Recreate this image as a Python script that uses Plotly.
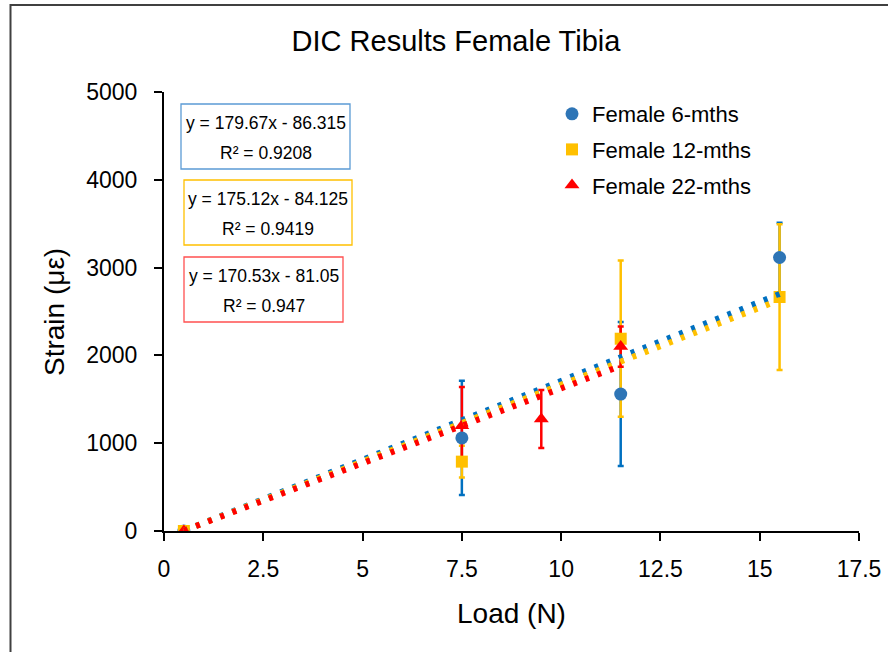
import plotly.graph_objects as go

# ---------------- data ----------------
series_names = ["Female 6-mths", "Female 12-mths", "Female 22-mths"]

load_6 = [0.5, 7.5, 11.5, 15.5]
strain_6 = [0, 1060, 1560, 3115]
err_6 = [0, 650, 820, 395]

load_12 = [0.5, 7.5, 11.5, 15.5]
strain_12 = [0, 790, 2190, 2665]
err_12 = [0, 180, 890, 830]

load_22 = [0.5, 7.5, 9.5, 11.5]
strain_22 = [0, 1200, 1275, 2100]
err_22 = [0, 440, 330, 230]

# linear trendline coefficients (as printed on the chart)
trend_slope = [179.67, 175.12, 170.53]
trend_intercept = [-86.315, -84.125, -81.05]
trend_r2 = ["0.9208", "0.9419", "0.947"]
eq_text = ["y = 179.67x - 86.315", "y = 175.12x - 84.125", "y = 170.53x - 81.05"]

x_tick_vals = [0, 2.5, 5, 7.5, 10, 12.5, 15, 17.5]
x_tick_text = ["0", "2.5", "5", "7.5", "10", "12.5", "15", "17.5"]
y_tick_vals = [0, 1000, 2000, 3000, 4000, 5000]
y_tick_text = ["0", "1000", "2000", "3000", "4000", "5000"]

# ---------------- styles ----------------
FONT = "Arial, Liberation Sans, sans-serif"
marker_colors = ["#2E75B6", "#FFC000", "#FF0000"]
err_colors = ["#0070C0", "#FFC000", "#FF0000"]
trend_colors = ["#0070C0", "#FFC000", "#FF0000"]
box_colors = ["#5B9BD5", "#FFC000", "#FF5050"]
symbols = ["circle", "square", "triangle-up"]
sizes = [13, 12, 13]

W, H = 888, 652
L, R, T, B = 164, 29, 92, 121
PW, PH = W - L - R, H - T - B


def px2x(px):
    return (px - L) / PW


def px2y(py):
    return (H - B - py) / PH


loads = [load_6, load_12, load_22]
strains = [strain_6, strain_12, strain_22]
errs = [err_6, err_12, err_22]

fig = go.Figure()

# error bars (drawn beneath all markers)
for i in range(3):
    fig.add_trace(go.Scatter(
        x=loads[i], y=strains[i], mode="markers",
        marker=dict(color="rgba(0,0,0,0)", size=1),
        error_y=dict(type="data", array=errs[i], visible=True,
                     color=err_colors[i], thickness=2.5, width=3),
        showlegend=False, hoverinfo="skip", legendgroup=f"g{i}"))

# markers
for i in range(3):
    fig.add_trace(go.Scatter(
        x=loads[i], y=strains[i], mode="markers", name=series_names[i],
        marker=dict(color=marker_colors[i], symbol=symbols[i], size=sizes[i],
                    line=dict(width=0)),
        legendgroup=f"g{i}"))

# trendlines
for i in range(3):
    xs = [min(loads[i]), max(loads[i])]
    ys = [trend_slope[i] * x + trend_intercept[i] for x in xs]
    fig.add_trace(go.Scatter(
        x=xs, y=ys, mode="lines",
        line=dict(color=trend_colors[i], width=6, dash="4px,9px"),
        showlegend=False, hoverinfo="skip", legendgroup=f"g{i}"))

# equation boxes
boxes = [(181, 104, 350, 169), (184, 180, 352, 245), (184, 257, 343, 322)]
shapes = []
annotations = []
for i, (x0, y0, x1, y1) in enumerate(boxes):
    shapes.append(dict(type="rect", xref="paper", yref="paper",
                       x0=px2x(x0), x1=px2x(x1), y0=px2y(y1), y1=px2y(y0),
                       line=dict(color=box_colors[i], width=1.3),
                       fillcolor="white", layer="above"))
    cx = (x0 + x1) / 2
    annotations.append(dict(text=eq_text[i], xref="paper", yref="paper",
                            x=px2x(cx), y=px2y(y0 + 19), showarrow=False,
                            xanchor="center", yanchor="middle",
                            font=dict(family=FONT, size=17.5, color="black")))
    annotations.append(dict(text="R² = " + trend_r2[i], xref="paper", yref="paper",
                            x=px2x(cx), y=px2y(y0 + 49), showarrow=False,
                            xanchor="center", yanchor="middle",
                            font=dict(family=FONT, size=17.5, color="black")))

# axis titles
annotations.append(dict(text="Load (N)", xref="paper", yref="paper",
                        x=px2x(511), y=px2y(613), showarrow=False,
                        xanchor="center", yanchor="middle",
                        font=dict(family=FONT, size=28, color="black")))
annotations.append(dict(text="Strain (με)", xref="paper", yref="paper",
                        x=px2x(54), y=px2y(312), showarrow=False, textangle=-90,
                        xanchor="center", yanchor="middle",
                        font=dict(family=FONT, size=28, color="black")))

# outer frame
shapes.append(dict(type="rect", xref="paper", yref="paper",
                   x0=px2x(10.5), x1=px2x(W + 20), y0=px2y(H + 20), y1=px2y(5),
                   line=dict(color="#404040", width=2), layer="below"))

axis_common = dict(showgrid=False, zeroline=False, showline=True,
                   linecolor="black", linewidth=2, ticks="outside",
                   ticklen=8, tickwidth=2, tickcolor="black", automargin=False,
                   tickfont=dict(family=FONT, size=23, color="black"))

fig.update_layout(
    width=W, height=H,
    margin=dict(l=L, r=R, t=T, b=B, pad=0, autoexpand=False),
    paper_bgcolor="white", plot_bgcolor="white",
    title=dict(text="DIC Results Female Tibia", x=456 / W, xref="container",
               xanchor="center", y=1 - 41 / H, yanchor="middle",
               font=dict(family=FONT, size=29, color="black")),
    xaxis=dict(range=[0, 17.5], tickvals=x_tick_vals, ticktext=x_tick_text,
               ticklabelstandoff=8, **axis_common),
    yaxis=dict(range=[0, 5000], tickvals=y_tick_vals, ticktext=y_tick_text,
               ticklabelstandoff=12, **axis_common),
    legend=dict(x=px2x(552), y=px2y(93), xanchor="left", yanchor="top",
                font=dict(family=FONT, size=22, color="black"),
                bgcolor="rgba(0,0,0,0)", traceorder="grouped", tracegroupgap=4),
    shapes=shapes, annotations=annotations, showlegend=True,
)

fig.write_html("out.html", config={"displayModeBar": False},
               post_script="document.body.style.margin='0px';document.body.style.overflow='hidden';")
